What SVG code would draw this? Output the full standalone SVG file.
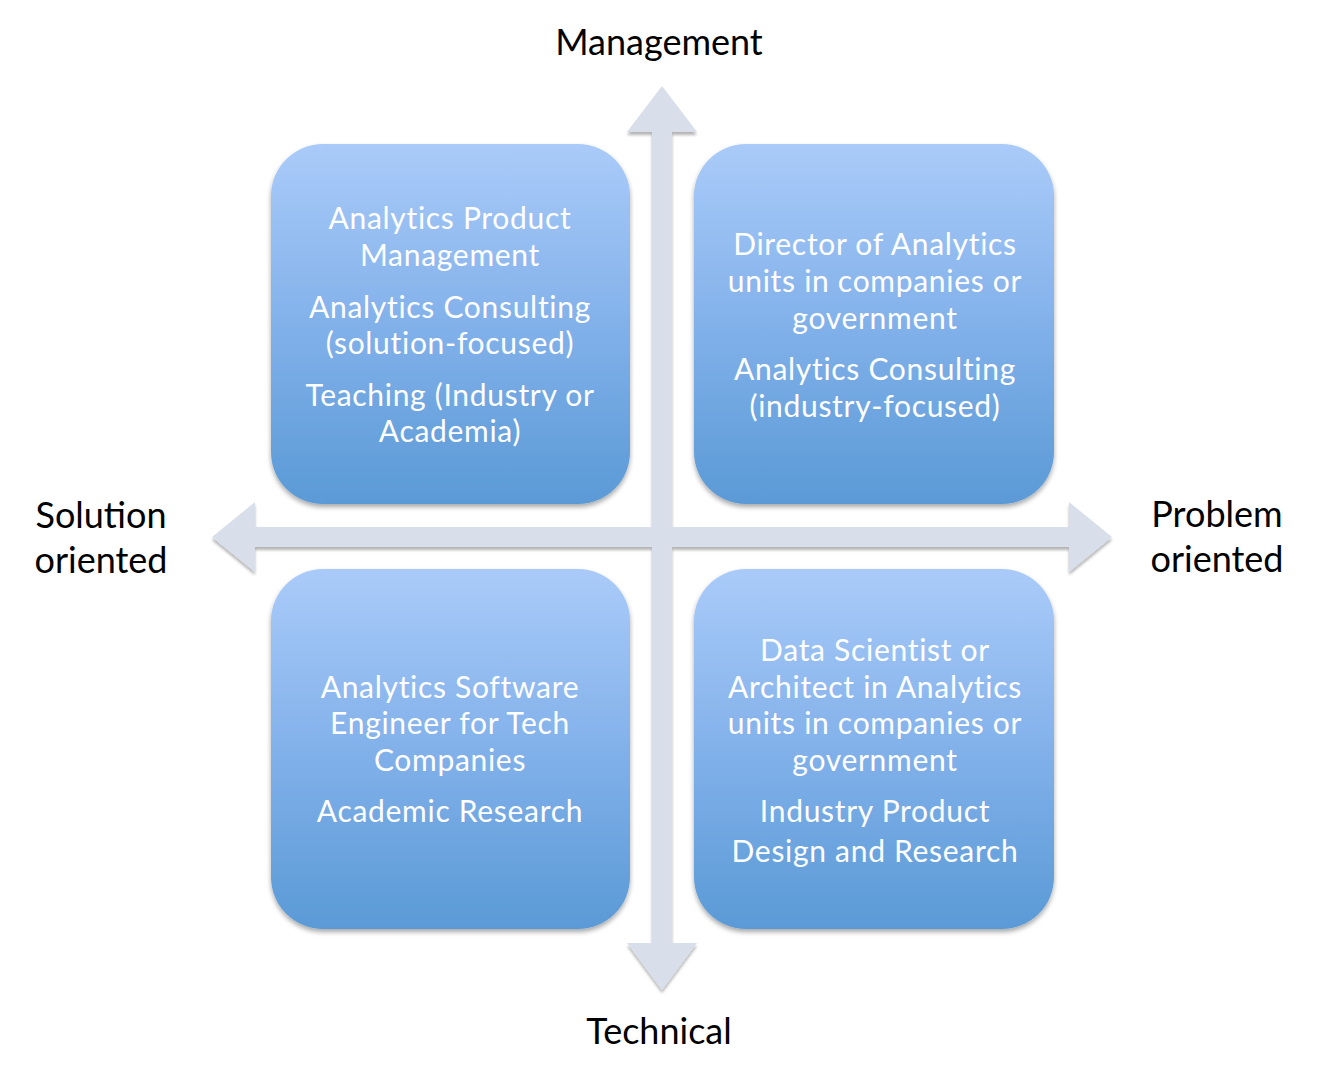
<svg xmlns="http://www.w3.org/2000/svg" width="1334" height="1066" viewBox="0 0 1334 1066">
<defs>
<linearGradient id="boxg" x1="0" y1="0" x2="0" y2="1">
<stop offset="0" stop-color="#AACBF9"/>
<stop offset="0.5" stop-color="#82B1EA"/>
<stop offset="1" stop-color="#5A9AD6"/>
</linearGradient>
<filter id="sh" x="-10%" y="-10%" width="120%" height="125%">
<feGaussianBlur in="SourceAlpha" stdDeviation="2.5"/>
<feOffset dy="3" result="b"/>
<feComponentTransfer><feFuncA type="linear" slope="0.35"/></feComponentTransfer>
<feMerge><feMergeNode/><feMergeNode in="SourceGraphic"/></feMerge>
</filter>
<filter id="ash" x="-10%" y="-10%" width="120%" height="120%">
<feGaussianBlur in="SourceAlpha" stdDeviation="1.5"/>
<feOffset dy="3"/>
<feComponentTransfer><feFuncA type="linear" slope="0.3"/></feComponentTransfer>
<feMerge><feMergeNode/><feMergeNode in="SourceGraphic"/></feMerge>
</filter>
</defs>
<style>
.box{fill:url(#boxg);filter:url(#sh);}
.bt{font-family:Lato,"Liberation Sans",sans-serif;font-size:30px;letter-spacing:0.7px;fill:#FFFFFF;text-anchor:middle;}
.ax{font-family:Lato,"Liberation Sans",sans-serif;font-size:36px;fill:#000000;text-anchor:middle;}
.arr{fill:#D8DEEA;filter:url(#ash);}
</style>
<rect width="1334" height="1066" fill="#FFFFFF"/>
<g id="connectors">
<polygon class="arr" points="662,86 697,132 672,132 672,527 1069,527 1069,502 1112,537 1069,572 1069,547 672,547 672,943 697,943 662,990 627,943 652,943 652,547 255,547 255,572 212,537 255,502 255,527 652,527 652,132 627,132"/>
</g>
<g id="node-tl">
<rect class="box" x="271" y="144" width="359" height="360" rx="52"/>
<text class="bt" x="450" y="229">Analytics Product</text>
<text class="bt" x="450" y="266">Management</text>
<text class="bt" x="450" y="318">Analytics Consulting</text>
<text class="bt" x="450" y="354">(solution-focused)</text>
<text class="bt" x="450" y="406">Teaching (Industry or</text>
<text class="bt" x="450" y="442">Academia)</text>
</g>
<g id="node-tr">
<rect class="box" x="694" y="144" width="360" height="360" rx="52"/>
<text class="bt" x="875" y="255">Director of Analytics</text>
<text class="bt" x="875" y="292">units in companies or</text>
<text class="bt" x="875" y="329">government</text>
<text class="bt" x="875" y="380">Analytics Consulting</text>
<text class="bt" x="875" y="417">(industry-focused)</text>
</g>
<g id="node-bl">
<rect class="box" x="271" y="569" width="359" height="360" rx="52"/>
<text class="bt" x="450" y="698">Analytics Software</text>
<text class="bt" x="450" y="734">Engineer for Tech</text>
<text class="bt" x="450" y="771">Companies</text>
<text class="bt" x="450" y="822">Academic Research</text>
</g>
<g id="node-br">
<rect class="box" x="694" y="569" width="360" height="360" rx="52"/>
<text class="bt" x="875" y="661">Data Scientist or</text>
<text class="bt" x="875" y="698">Architect in Analytics</text>
<text class="bt" x="875" y="734">units in companies or</text>
<text class="bt" x="875" y="771">government</text>
<text class="bt" x="875" y="822">Industry Product</text>
<text class="bt" x="875" y="862">Design and Research</text>
</g>
<g id="axis-labels">
<text class="ax" x="659" y="55">Management</text>
<text class="ax" x="659" y="1044">Technical</text>
<text class="ax" x="101" y="528">Solution</text>
<text class="ax" x="101" y="573">oriented</text>
<text class="ax" x="1217" y="527">Problem</text>
<text class="ax" x="1217" y="572">oriented</text>
</g>
</svg>
